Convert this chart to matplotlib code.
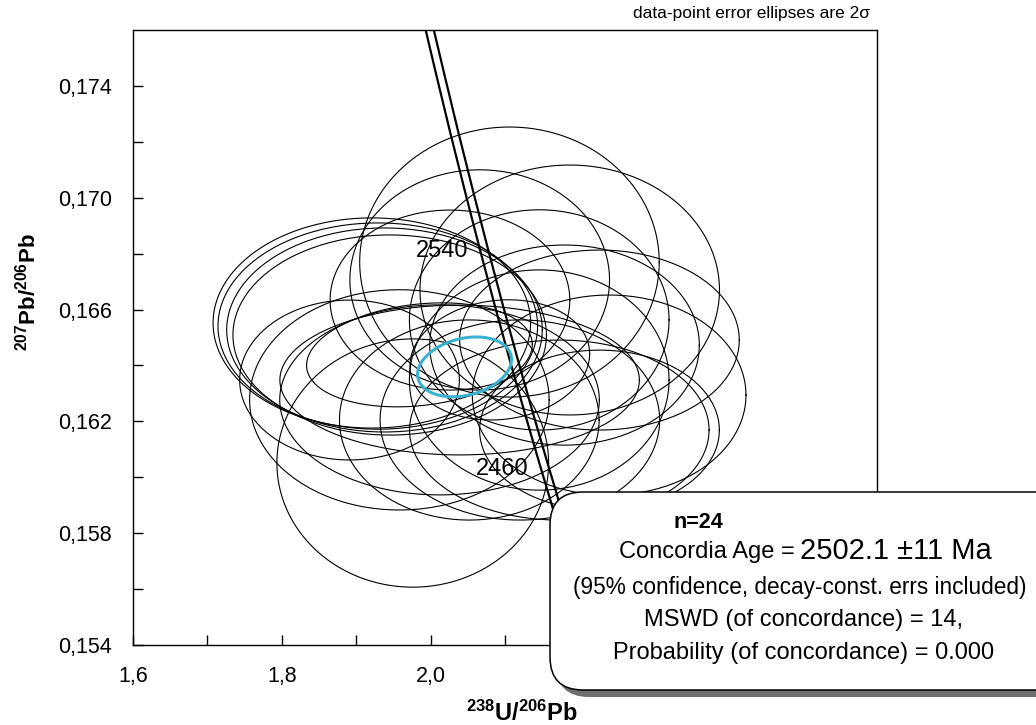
import numpy as np
import matplotlib
matplotlib.use("Agg")
from matplotlib import pyplot as plt
from matplotlib.patches import FancyBboxPatch

plt.rcParams['font.family'] = ['Liberation Sans', 'DejaVu Sans']
plt.rcParams['mathtext.fontset'] = 'custom'
plt.rcParams['mathtext.rm'] = 'Liberation Sans'
plt.rcParams['mathtext.bf'] = 'Liberation Sans:bold'

# data-point ellipses: centre (238U/206Pb, 207Pb/206Pb), 2 sigma half-axes, correlation
ell_x = [2.106, 2.187, 1.921, 1.929, 1.938, 1.945, 1.985, 1.976, 2.227, 2.240, 2.146, 2.180,
         2.093, 2.052, 2.120, 2.173, 2.012, 1.958, 1.891, 2.026, 2.066, 2.146, 2.039, 2.227]
ell_y = [0.16770, 0.16670, 0.16552, 0.16541, 0.16527, 0.16509, 0.16438, 0.16051, 0.16491, 0.16294,
         0.16563, 0.16473, 0.16420, 0.16205, 0.16205, 0.16169, 0.16277, 0.16277, 0.16348, 0.16634,
         0.16706, 0.16348, 0.16348, 0.16169]
ell_sx = [0.2013, 0.2013, 0.2134, 0.2148, 0.2121, 0.2107, 0.1517, 0.1826, 0.1879, 0.1839, 0.1745, 0.1812,
          0.1208, 0.1745, 0.1879, 0.2013, 0.2148, 0.2013, 0.1477, 0.1611, 0.1745, 0.1745, 0.2416, 0.1611]
ell_sy = [0.00483, 0.00447, 0.00376, 0.00369, 0.00365, 0.00358, 0.00186, 0.00444, 0.00322, 0.00358,
          0.00394, 0.00358, 0.00215, 0.00358, 0.00358, 0.00322, 0.00340, 0.00394, 0.00286, 0.00322,
          0.00394, 0.00394, 0.00268, 0.00286]
ell_rho = [0.0, 0.0, 0.0, 0.0, 0.0, 0.0, 0.2, 0.0, 0.0, 0.0, 0.0, 0.0,
           0.1, 0.0, 0.0, 0.0, 0.0, 0.0, 0.0, 0.0, 0.0, 0.0, 0.0, 0.0]

# concordia age ellipse
age_x, age_y, age_sx, age_sy, age_rho = 2.0456, 0.16395, 0.0631, 0.00107, 0.25

# concordia curve (ages in Ma) and its decay-constant band half-width
conc_age = [2620, 2600, 2580, 2560, 2540, 2520, 2500, 2480, 2460, 2440]
conc_x = [1.9944, 2.0131, 2.0320, 2.0513, 2.0708, 2.0907, 2.1109, 2.1315, 2.1524, 2.1736]
conc_y = [0.17650, 0.17440, 0.17232, 0.17027, 0.16825, 0.16625, 0.16429, 0.16235, 0.16044, 0.15855]
band_dx = 0.0055
label_ages = [2540, 2460]

xticks = [1.6, 1.8, 2.0, 2.2, 2.4, 2.6]
xticklabels = ['1,6', '1,8', '2,0', '', '', '']  # the rest sit under the result box
yticks = [0.154, 0.158, 0.162, 0.166, 0.170, 0.174]
yticklabels = ['0,154', '0,158', '0,162', '0,166', '0,170', '0,174']


def ellipse_pts(cx, cy, sx, sy, rho, n=200):
    t = np.linspace(0, 2 * np.pi, n)
    return cx + sx * np.cos(t), cy + sy * (rho * np.cos(t) + np.sqrt(1 - rho ** 2) * np.sin(t))


fig = plt.figure(figsize=(10.36, 7.25), dpi=100)
ax = fig.add_axes([0.1284, 0.1103, 0.7181, 0.8483])
ax.set_xlim(1.6, 2.6)
ax.set_ylim(0.154, 0.176)

for i in range(len(ell_x)):
    ex, ey = ellipse_pts(ell_x[i], ell_y[i], ell_sx[i], ell_sy[i], ell_rho[i])
    ax.plot(ex, ey, color='black', lw=0.8)

cx = np.array(conc_x)
ax.plot(cx - band_dx, conc_y, color='black', lw=1.6)
ax.plot(cx + band_dx, conc_y, color='black', lw=1.6)
for a in label_ages:
    k = conc_age.index(a)
    ax.annotate(str(a), (conc_x[k] - band_dx, conc_y[k]), xytext=(-8, -3), textcoords='offset points',
                ha='right', va='center', fontsize=17)

ex, ey = ellipse_pts(age_x, age_y, age_sx, age_sy, age_rho)
ax.plot(ex, ey, color='#38b2d0', lw=2.2)

ax.set_xticks(xticks)
ax.set_xticklabels(xticklabels)
ax.set_yticks(yticks)
ax.set_yticklabels(yticklabels)
ax.set_xticks(np.array(xticks[:-1]) + 0.1, minor=True)
ax.set_yticks(np.array(yticks[:-1]) + 0.002, minor=True)
ax.tick_params(which='both', direction='in', labelsize=15.5, top=False, right=False, width=1)
ax.tick_params(which='major', length=7, pad=15)
ax.tick_params(which='minor', length=7)
for s in ax.spines.values():
    s.set_linewidth(1.0)

fig.text(0.5035, 0.016, r'$\mathbf{{}^{238}U/{}^{206}Pb}$', fontsize=17, ha='center', va='center')
fig.text(0.027, 0.597, r'$\mathbf{{}^{207}Pb/{}^{206}Pb}$', fontsize=16, ha='center', va='center',
         rotation=90)
fig.text(0.840, 0.981, 'data-point error ellipses are 2σ', fontsize=12.5, ha='right', va='center',
         family=['Liberation Sans Narrow', 'Liberation Sans', 'DejaVu Sans'])

# result box with shadow
shadow = FancyBboxPatch((5.56, 0.28), 5.3, 1.98, boxstyle='round,pad=0,rounding_size=0.33',
                        transform=fig.dpi_scale_trans, fc='#6e6e6e', ec='none', zorder=9)
box = FancyBboxPatch((5.50, 0.35), 5.3, 1.98, boxstyle='round,pad=0,rounding_size=0.33',
                     transform=fig.dpi_scale_trans, fc='white', ec='black', lw=1.1, zorder=10)
fig.add_artist(shadow)
fig.add_artist(box)

fig.text(0.674, 0.280, 'n=24', fontsize=15.5, fontweight='bold', ha='center', va='center', zorder=11)
fig.text(0.767, 0.238, 'Concordia Age =', fontsize=17, ha='right', va='center', zorder=11)
fig.text(0.772, 0.240, '2502.1 ±11 Ma', fontsize=21, ha='left', va='center', zorder=11)
fig.text(0.772, 0.190, '(95% confidence, decay-const. errs included)', fontsize=16.3, ha='center',
         va='center', zorder=11)
fig.text(0.776, 0.145, 'MSWD (of concordance) = 14,', fontsize=17, ha='center', va='center', zorder=11)
fig.text(0.776, 0.099, 'Probability (of concordance) = 0.000', fontsize=17, ha='center', va='center',
         zorder=11)

fig.savefig('out.png', dpi=100)
